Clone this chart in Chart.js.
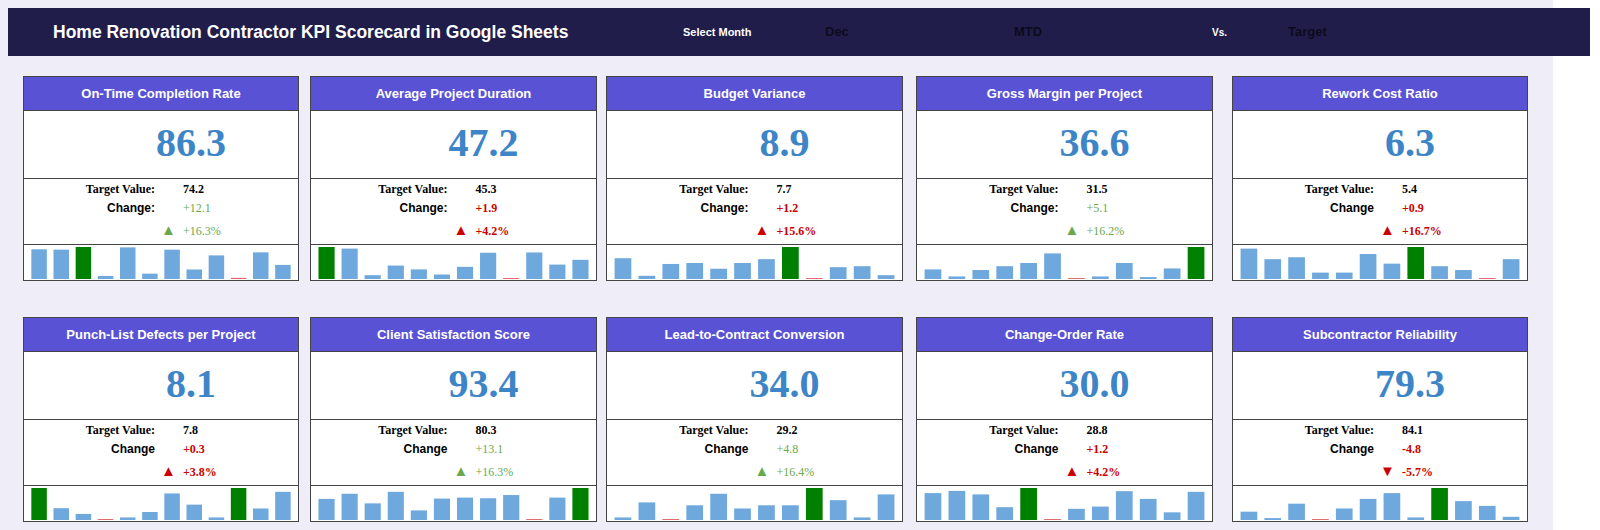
<!DOCTYPE html>
<html>
<head>
<meta charset="utf-8">
<script src="https://cdn.jsdelivr.net/npm/chart.js@4"></script>
<style>
body { margin:0; width:1600px; height:530px; background:#fff; position:relative; overflow:hidden; font-family:"Liberation Sans", Arial, sans-serif; }
#bg { position:absolute; left:0; top:0; width:1553px; height:530px; background:#eeedf8; }
#head { position:absolute; left:8px; top:8px; width:1582px; height:48px; background:#201d4b; }
#head span { position:absolute; font-weight:bold; }
.card { position:absolute; border:1px solid #444; background:#fff; box-sizing:border-box; }
.ttl { height:33px; background:#5a52d5; color:#fff; font-weight:bold; font-size:13px; text-align:center; line-height:33px; border-bottom:1px solid #444; }
.big { height:67px; position:relative; border-bottom:1px solid #444; }
.dot { position:absolute; display:block; z-index:2; left:13px; top:27px; width:25px; height:25px; border-radius:50%; }
.num { position:absolute; left:0; right:0; top:8px; text-align:center; font-family:"Liberation Serif", serif; font-weight:bold; font-size:40px; color:#3d85c6; padding-left:60px; }
.st { height:65px; position:relative; border-bottom:1px solid #444; font-family:"Liberation Serif", serif; font-weight:bold; font-size:12px; }
.st div { position:absolute; }
.lab { right:calc(50% + 6px); text-align:right; }
.lab2 { font-family:"Liberation Sans", Arial, sans-serif; }
.val { left:calc(50% + 22px); }
canvas { display:block; }
</style>
</head>
<body>
<div id="bg"></div>
<div id="head">
  <span style="left:45px;top:14px;color:#fff;font-size:17.5px">Home Renovation Contractor KPI Scorecard in Google Sheets</span>
  <span style="left:675px;top:18px;color:#fff;font-size:11px">Select Month</span>
  <span style="left:817px;top:16px;color:#0c0b1c;font-size:13px">Dec</span>
  <span style="left:1006px;top:16px;color:#0c0b1c;font-size:13px">MTD</span>
  <span style="left:1204px;top:19px;color:#fff;font-size:10px">Vs.</span>
  <span style="left:1280px;top:16px;color:#0c0b1c;font-size:13px">Target</span>
</div>
<div id="cards"></div>
<script>
var titles = ["On-Time Completion Rate", "Average Project Duration", "Budget Variance", "Gross Margin per Project", "Rework Cost Ratio",
  "Punch-List Defects per Project", "Client Satisfaction Score", "Lead-to-Contract Conversion", "Change-Order Rate", "Subcontractor Reliability"];
var actuals = ["86.3", "47.2", "8.9", "36.6", "6.3", "8.1", "93.4", "34.0", "30.0", "79.3"];
var targets = ["74.2", "45.3", "7.7", "31.5", "5.4", "7.8", "80.3", "29.2", "28.8", "84.1"];
var changes = ["+12.1", "+1.9", "+1.2", "+5.1", "+0.9", "+0.3", "+13.1", "+4.8", "+1.2", "-4.8"];
var pcts = ["+16.3%", "+4.2%", "+15.6%", "+16.2%", "+16.7%", "+3.8%", "+16.3%", "+16.4%", "+4.2%", "-5.7%"];
var status = ["green", "yellow", "red", "green", "red", "yellow", "green", "green", "yellow", "red"];
var good = [true, false, false, true, false, false, true, true, false, false];
var colonChange = [true, true, true, true, false, false, false, false, false, false];

var trend = [
  [78, 77, 84, 8, 83, 14, 77, 25, 62, 3, 70, 37],
  [100, 95, 12, 42, 30, 14, 38, 82, 3, 83, 45, 60],
  [65, 10, 47, 50, 32, 50, 62, 100, 3, 37, 40, 12],
  [30, 8, 28, 40, 50, 80, 3, 8, 50, 6, 33, 100],
  [95, 62, 68, 20, 20, 78, 48, 100, 40, 28, 3, 62],
  [100, 37, 19, 3, 8, 25, 83, 48, 8, 100, 36, 88],
  [66, 82, 52, 88, 30, 67, 70, 68, 78, 3, 70, 100],
  [8, 55, 3, 46, 82, 36, 46, 46, 100, 62, 8, 80],
  [84, 91, 80, 40, 100, 3, 35, 42, 90, 66, 24, 88],
  [26, 6, 51, 3, 36, 66, 84, 8, 100, 59, 44, 10]
];

var dotColors = { green: "#6aa84f", yellow: "#ffc000", red: "#cc0000" };
var lefts = [23, 310, 606, 916, 1232];
var widths = [276, 287, 297, 297, 296];
var tops = [76, 317];

var html = "";
for (var i = 0; i < 10; i++) {
  var c = i % 5, r = Math.floor(i / 5);
  var col = good[i] ? "#6aa84f" : "#cc0000";
  var tri = changes[i].charAt(0) == "-" ? "&#9660;" : "&#9650;";
  html += '<div class="card" style="left:' + lefts[c] + 'px;top:' + tops[r] + 'px;width:' + widths[c] + 'px;height:205px">';
  html += '<div class="ttl">' + titles[i] + '</div>';
  html += '<div class="big"><span class="dot" style="background-color:' + dotColors[status[i]] + '"></span><div class="num">' + actuals[i] + '</div></div>';
  html += '<div class="st">';
  html += '<div class="lab" style="top:3px">Target Value:</div><div class="val" style="top:3px">' + targets[i] + '</div>';
  html += '<div class="lab lab2" style="top:22px">Change' + (colonChange[i] ? ':' : '') + '</div><div class="val" style="top:22px;font-weight:' + (good[i] ? 'normal' : 'bold') + ';color:' + col + '">' + changes[i] + '</div>';
  html += '<div style="left:calc(50% + 0px);top:43px;font-size:15px;color:' + col + '">' + tri + '</div><div class="val" style="top:45px;color:' + col + ';font-weight:' + (good[i] ? 'normal' : 'bold') + '">' + pcts[i] + '</div>';
  html += '</div>';
  html += '<canvas id="spark_' + i + '" width="' + (widths[c] - 2) + '" height="36"></canvas>';
  html += '</div>';
}
document.getElementById("cards").innerHTML = html;

for (var i = 0; i < 10; i++) {
  var d = trend[i];
  var mx = Math.max.apply(null, d), mn = Math.min.apply(null, d);
  var colors = d.map(function (v) { return v == mx ? "#008000" : (v == mn ? "#e06666" : "#6fa8dc"); });
  new Chart(document.getElementById("spark_" + i), {
    type: "bar",
    data: { labels: d.map(function (_, k) { return k + 1; }), datasets: [{ data: d, backgroundColor: colors, barPercentage: 0.7, categoryPercentage: 1 }] },
    options: {
      responsive: false, animation: false,
      layout: { padding: { left: 4, right: 4, top: 2, bottom: 2 } },
      plugins: { legend: { display: false }, tooltip: { enabled: false } },
      scales: { x: { display: false }, y: { display: false, min: 0, max: mx } }
    }
  });
}
</script>
</body>
</html>
